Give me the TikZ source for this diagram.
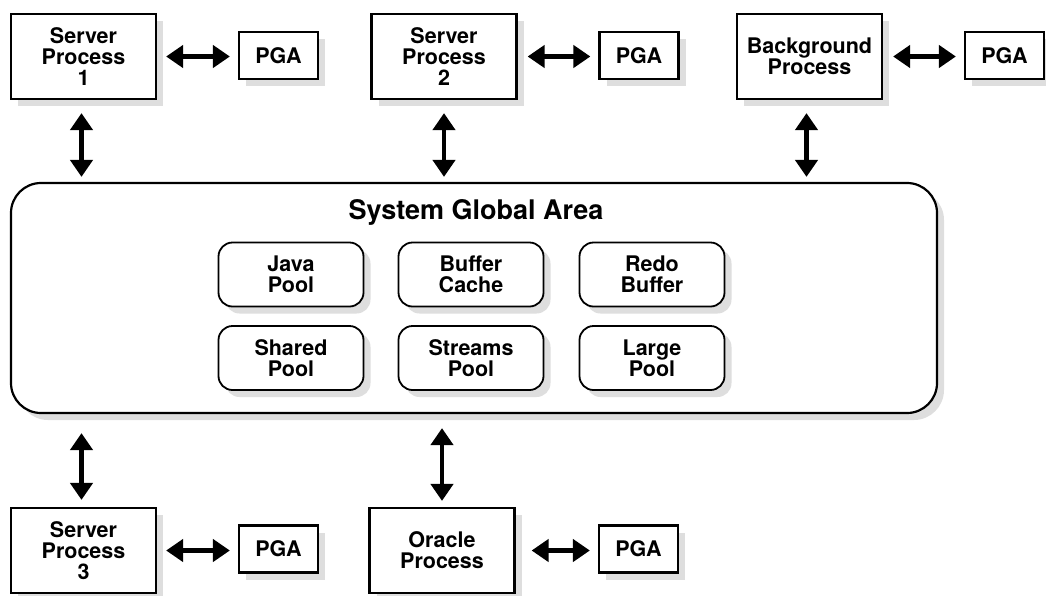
\documentclass[tikz,border=0pt]{standalone}
\usepackage{fontspec}
\setmainfont{TeX Gyre Heros}
\usepackage{tikz}
\usetikzlibrary{positioning,shadows,arrows.meta}

\begin{document}
\begin{tikzpicture}[x=1pt, y=-1pt, node distance=195pt, on grid,
		font=\bfseries\fontsize{21.5}{21}\selectfont,
		shade/.style={drop shadow={shadow xshift=7pt, shadow yshift=-7pt, fill=black!13, opacity=1}},
		proc/.style={draw, line width=2.2pt, fill=white, shade, align=center, minimum width=145pt, minimum height=85pt, inner sep=0pt},
		pga/.style={draw, line width=2.2pt, fill=white, shade, minimum width=79pt, minimum height=47pt, inner sep=0pt},
		pool/.style={draw, line width=1.8pt, fill=white, shade, rounded corners=14pt, align=center, minimum width=145pt, minimum height=64pt, inner sep=0pt},
		link/.style={{Triangle[length=17pt,width=22pt]}-{Triangle[length=17pt,width=22pt]}, line width=4.5pt}]
				\useasboundingbox (0,0) rectangle (1046,595);
				
				\node[proc] (sp_1) at (83.5,56.5) {Server\\Process\\1};
				\node[proc] (sp_2) [right=360.5pt of sp_1] {Server\\Process\\2};
				\node[proc] (bg) [right=365.5pt of sp_2] {Background\\Process};
				\node[pga] (pga_1) [right=of sp_1, yshift=1pt] {PGA};
				\node[pga] (pga_2) [right=of sp_2, yshift=1pt] {PGA};
				\node[pga] (pga_3) [right=of bg, yshift=1pt] {PGA};
				
				\node[draw, line width=2.2pt, fill=white, shade, rounded corners=30pt, minimum width=926pt, minimum height=230pt] (sga) at (474,298) {};
				\node[font=\bfseries\fontsize{27}{30}\selectfont] (sga_t) at (476,212) {System Global Area};
				
				\node[pool] (java) at (291,274.5) {Java\\Pool};
				\node[pool] (buffer) [right=180pt of java] {Buffer\\Cache};
				\node[pool] (redo) [right=181pt of buffer] {Redo\\Buffer};
				\node[pool] (shared) [below=83.5pt of java] {Shared\\Pool};
				\node[pool] (streams) [below=83.5pt of buffer] {Streams\\Pool};
				\node[pool] (large) [below=83.5pt of redo] {Large\\Pool};
				
				\node[proc] (sp_3) at (83.5,550.5) {Server\\Process\\3};
				\node[proc] (oracle) [right=358.5pt of sp_3] {Oracle\\Process};
				\node[pga] (pga_4) [right=of sp_3, yshift=1.5pt] {PGA};
				\node[pga] (pga_5) [right=196.5pt of oracle, yshift=1.5pt] {PGA};
				
				\path[link]
				([xshift=-2pt]sp_1.south) edge [shorten <=13pt, shorten >=5pt] ([xshift=-2pt]sp_1.south |- sga.north)
				(sp_2.south) edge [shorten <=13pt, shorten >=5pt] (sp_2.south |- sga.north)
				([xshift=-3pt]bg.south) edge [shorten <=13pt, shorten >=5pt] ([xshift=-3pt]bg.south |- sga.north)
				(sp_1.east) edge [shorten <=9pt, shorten >=8pt] (sp_1.east -| pga_1.west)
				(sp_2.east) edge [shorten <=10pt, shorten >=8pt] (sp_2.east -| pga_2.west)
				(bg.east) edge [shorten <=10pt, shorten >=8pt] (bg.east -| pga_3.west)
				([xshift=-2pt]sp_3.north |- sga.south) edge [shorten <=19pt, shorten >=7pt] ([xshift=-2pt]sp_3.north)
				(oracle.north |- sga.south) edge [shorten <=14pt, shorten >=6pt] (oracle.north)
				(sp_3.east) edge [shorten <=9pt, shorten >=8pt] (sp_3.east -| pga_4.west)
				(oracle.east) edge [shorten <=16pt, shorten >=8pt] (oracle.east -| pga_5.west)
				;
			\end{tikzpicture}
\end{document}
